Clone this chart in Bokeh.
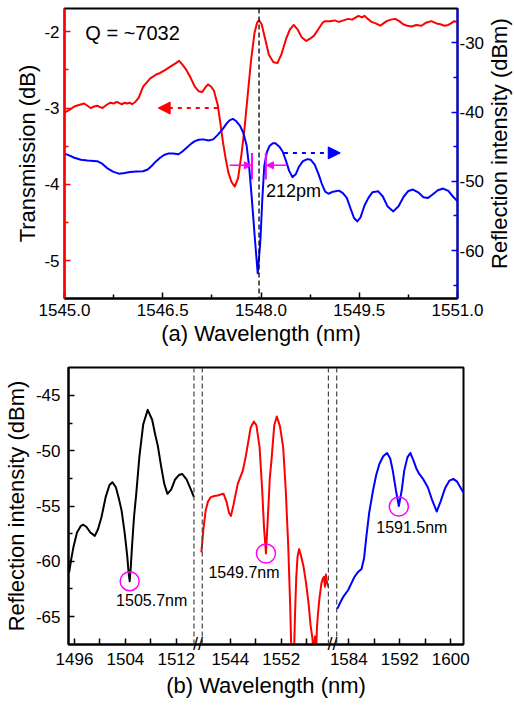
import math
from bokeh.plotting import figure
from bokeh.models import (Range1d, LinearAxis, FixedTicker, Span, Arrow,
                          NormalHead, Label, Title)
from bokeh.layouts import column, row
from bokeh.core.properties import value
from bokeh.embed import file_html
from bokeh.resources import INLINE

FONT = "Liberation Sans"

# ---------------- data: panel (a) ----------------
trans_wl = [1545.00, 1545.02, 1545.08, 1545.15, 1545.22, 1545.30, 1545.35, 1545.40,
            1545.45, 1545.50, 1545.55, 1545.58, 1545.64, 1545.70, 1545.75, 1545.80,
            1545.85, 1545.88, 1545.92, 1545.95, 1546.00, 1546.03, 1546.08, 1546.13,
            1546.20, 1546.31, 1546.40, 1546.46, 1546.54, 1546.61, 1546.70, 1546.75,
            1546.80, 1546.86, 1546.93, 1546.99, 1547.05, 1547.10, 1547.15, 1547.19,
            1547.24, 1547.28, 1547.34, 1547.38, 1547.42, 1547.46, 1547.50, 1547.55,
            1547.60, 1547.65, 1547.70, 1547.75, 1547.80, 1547.85, 1547.90, 1547.94,
            1547.97, 1548.01, 1548.06, 1548.12, 1548.19, 1548.25, 1548.31, 1548.38,
            1548.44, 1548.50, 1548.56, 1548.62, 1548.69, 1548.75, 1548.81, 1548.88,
            1548.94, 1548.98, 1549.05, 1549.12, 1549.19, 1549.26, 1549.33, 1549.39,
            1549.45, 1549.49, 1549.54, 1549.58, 1549.63, 1549.69, 1549.75, 1549.82,
            1549.87, 1549.92, 1549.98, 1550.05, 1550.11, 1550.17, 1550.23, 1550.30,
            1550.37, 1550.45, 1550.52, 1550.60, 1550.68, 1550.74, 1550.80, 1550.86,
            1550.90, 1550.95, 1551.00]
trans_db = [-3.06, -3.05, -3.02, -2.98, -2.96, -2.94, -2.97, -3.00,
            -2.98, -2.97, -2.99, -3.00, -2.96, -2.93, -2.94, -2.92,
            -2.94, -2.95, -2.93, -2.94, -2.93, -2.95, -2.92, -2.87,
            -2.72, -2.61, -2.56, -2.54, -2.50, -2.46, -2.41, -2.38,
            -2.43, -2.50, -2.61, -2.72, -2.78, -2.79, -2.73, -2.69,
            -2.72, -2.77, -2.96, -3.20, -3.45, -3.66, -3.84, -3.97,
            -4.03, -3.92, -3.62, -3.25, -2.80, -2.36, -2.02, -1.88,
            -1.85, -1.90, -2.08, -2.30, -2.40, -2.41, -2.30, -2.10,
            -1.97, -1.91, -1.97, -2.07, -2.12, -2.09, -2.05, -1.96,
            -1.88, -1.86, -1.86, -1.85, -1.87, -1.85, -1.83, -1.84,
            -1.81, -1.79, -1.81, -1.79, -1.83, -1.87, -1.89, -1.92,
            -1.89, -1.86, -1.84, -1.83, -1.86, -1.90, -1.92, -1.93,
            -1.91, -1.92, -1.88, -1.86, -1.89, -1.90, -1.92, -1.91,
            -1.89, -1.86, -1.87]

refl_wl = [1545.00, 1545.08, 1545.15, 1545.25, 1545.35, 1545.50, 1545.58, 1545.65,
           1545.74, 1545.83, 1545.92, 1546.00, 1546.10, 1546.20, 1546.27, 1546.33,
           1546.40, 1546.46, 1546.52, 1546.58, 1546.66, 1546.74, 1546.80, 1546.86,
           1546.93, 1546.99, 1547.05, 1547.12, 1547.20, 1547.27, 1547.34, 1547.42,
           1547.48, 1547.52, 1547.57, 1547.62, 1547.68, 1547.73, 1547.78, 1547.82,
           1547.86, 1547.91, 1547.95, 1547.99, 1548.02, 1548.05, 1548.09, 1548.13,
           1548.18, 1548.22, 1548.28, 1548.33, 1548.38, 1548.43, 1548.48, 1548.53,
           1548.58, 1548.64, 1548.71, 1548.76, 1548.82, 1548.88, 1548.93, 1548.98,
           1549.03, 1549.10, 1549.19, 1549.25, 1549.31, 1549.37, 1549.42, 1549.47,
           1549.52, 1549.58, 1549.64, 1549.70, 1549.79, 1549.86, 1549.93, 1550.02,
           1550.10, 1550.18, 1550.25, 1550.32, 1550.40, 1550.48, 1550.55, 1550.62,
           1550.70, 1550.78, 1550.86, 1550.93, 1551.00]
refl_dbm = [-46.0, -46.3, -46.6, -46.9, -47.0, -47.1, -47.5, -48.1,
            -48.6, -48.9, -48.8, -48.65, -48.6, -48.55, -48.3, -47.8,
            -47.1, -46.6, -46.2, -46.0, -46.0, -46.1, -45.7, -45.2,
            -44.6, -44.2, -44.0, -43.95, -44.1, -43.95, -43.3, -42.4,
            -41.6, -41.2, -41.0, -41.3, -42.0, -43.0, -44.8, -48.0,
            -52.5, -58.7, -63.3, -58.7, -52.6, -47.8, -45.8, -44.9,
            -44.5, -44.5, -45.0, -45.7, -47.0, -48.5, -49.4, -49.0,
            -47.9, -47.1, -46.8, -46.9, -47.6, -49.0, -50.4, -51.5,
            -51.8, -51.5, -51.35, -51.7, -52.4, -54.0, -55.3, -55.8,
            -55.2, -53.5, -52.4, -51.6, -51.45, -52.2, -53.6, -54.35,
            -53.6, -52.2, -51.4, -51.2, -51.6, -52.3, -52.4, -51.9,
            -51.3, -51.05, -51.4, -52.2, -52.9]

resonance_wl = 1547.97
fwhm_left, fwhm_right = 1547.862, 1548.074
q_text = "Q = ~7032"
fwhm_text = "212pm"

a_xticks = [1545.0, 1546.5, 1548.0, 1549.5, 1551.0]
a_xlabels = ["1545.0", "1546.5", "1548.0", "1549.5", "1551.0"]
a_xminor = [1545.75, 1547.25, 1548.75, 1550.25]
a_lticks = [-5, -4, -3, -2]
a_llabels = ["-5", "-4", "-3", "-2"]
a_lminor = [-5.5, -4.5, -3.5, -2.5]
a_rticks = [-60, -50, -40, -30]
a_rlabels = ["-60", "-50", "-40", "-30"]
a_rminor = [-65, -55, -45, -35]

# ---------------- data: panel (b) ----------------
black_wl = [1495.17, 1495.5, 1495.85, 1496.4, 1497.0, 1497.4, 1497.9, 1498.5, 1499.2,
            1499.7, 1500.25, 1500.9, 1501.5, 1501.97, 1502.5, 1503.0, 1503.4, 1503.9,
            1504.3, 1504.5, 1504.67, 1504.85, 1505.0, 1505.35, 1505.7, 1506.2, 1506.8,
            1507.5, 1508.2, 1508.7, 1509.1, 1509.6, 1510.1, 1510.6, 1511.2, 1511.8,
            1512.4, 1512.9, 1513.6, 1514.2, 1514.76]
black_dbm = [-61.0, -59.8, -58.7, -57.4, -56.8, -56.7, -56.9, -57.4, -57.7,
             -57.1, -56.0, -54.2, -53.1, -52.85, -53.3, -54.4, -55.4, -57.5,
             -59.6, -61.0, -61.8, -60.5, -59.0, -56.0, -53.9, -50.5, -47.6,
             -46.3, -47.2, -48.6, -49.6, -51.4, -53.0, -53.9, -53.5, -52.6,
             -52.2, -52.1, -52.6, -53.4, -54.2]

red_wl = [1539.46, 1539.8, 1540.14, 1540.5, 1540.94, 1541.5, 1542.0, 1542.5, 1542.95,
          1543.4, 1543.8, 1544.1, 1544.5, 1545.17, 1545.97, 1546.4, 1546.76, 1547.2,
          1547.7, 1548.1, 1548.6, 1549.0, 1549.3, 1549.6, 1549.9, 1550.2, 1550.46,
          1550.9, 1551.3, 1551.8, 1552.3, 1552.7, 1553.1, 1553.4, 1553.6, 1554.0,
          1554.15, 1554.35, 1554.55, 1554.8, 1555.1, 1555.5, 1555.9, 1556.3, 1556.6,
          1556.9, 1557.1, 1557.3, 1557.45, 1557.6, 1557.8, 1558.0, 1558.1, 1558.3,
          1558.5, 1558.7, 1558.85, 1559.0, 1559.2, 1559.4]
red_dbm = [-59.2, -57.0, -55.4, -54.6, -54.2, -54.1, -54.05, -53.95, -53.9,
           -54.6, -55.6, -55.9, -54.9, -53.0, -51.8, -50.6, -49.4, -47.9,
           -47.35, -47.7, -49.7, -53.5, -57.0, -59.3, -56.0, -52.5, -50.9,
           -47.7, -46.9, -47.8, -49.7, -53.5, -58.7, -64.0, -68.5, -68.5,
           -65.0, -61.5, -59.6, -58.9, -59.5, -60.5, -62.0, -63.9, -65.8,
           -67.0, -68.5, -66.8, -68.5, -66.0, -64.5, -63.3, -62.9, -62.0,
           -61.6, -61.4, -62.3, -61.2, -62.0, -62.3]

blue_wl = [1582.2, 1582.6, 1583.1, 1583.9, 1584.4, 1584.9, 1585.4, 1586.0, 1586.4,
           1586.75, 1587.2, 1587.8, 1588.3, 1588.8, 1589.4, 1590.0, 1590.5, 1590.9,
           1591.4, 1591.85, 1592.3, 1592.7, 1593.2, 1593.65, 1594.1, 1594.6, 1595.05,
           1595.7, 1596.4, 1597.1, 1597.8, 1598.4, 1599.1, 1599.8, 1600.4, 1601.0,
           1601.5, 1602.0]
blue_dbm = [-64.3, -63.8, -63.25, -62.6, -62.0, -61.4, -61.0, -60.7, -59.7,
            -57.8, -55.6, -53.6, -52.2, -51.2, -50.5, -50.2, -50.7, -51.8,
            -53.6, -55.0, -53.6, -51.8, -50.6, -50.2, -50.8, -51.6, -52.1,
            -52.6, -53.3, -54.5, -55.5, -54.6, -53.4, -52.7, -52.55, -52.8,
            -53.3, -53.8]

dip_wl = [1504.67, 1549.6, 1591.85]
dip_dbm = [-61.8, -59.3, -55.05]
dip_text = ["1505.7nm", "1549.7nm", "1591.5nm"]

b_xticks = [1496, 1504, 1512, 1544, 1552, 1584, 1592, 1600]
b_xlabels = ["1496", "1504", "1512", "1544", "1552", "1584", "1592", "1600"]
b_xminor = [1500, 1508, 1548, 1556, 1588, 1596]
b_yticks = [-65, -60, -55, -50, -45]
b_ylabels = ["-65", "-60", "-55", "-50", "-45"]
b_yminor = [-62.5, -57.5, -52.5, -47.5]
B_YMIN, B_YMAX = -67.53, -42.47

# broken-axis segments (wavelength windows shown) and gap between them
SEGMENTS = [(1495.07, 1514.76), (1539.6, 1559.4), (1582.1, 1602.0)]
GAP = 1.3
OFFSETS = []
_o = 0.0
for a, b in SEGMENTS:
    OFFSETS.append(_o)
    _o += (b - a) + GAP
X_TOTAL = _o - GAP


def brk(lam):
    for (a, b), o in zip(SEGMENTS, OFFSETS):
        if lam <= b + GAP:
            return o + (lam - a)
    a, b = SEGMENTS[-1]
    return OFFSETS[-1] + (lam - a)


def style_axis(ax, color, ticks, labels, minor, standoff):
    ax.ticker = FixedTicker(ticks=ticks, minor_ticks=minor)
    ax.major_label_overrides = {t: l for t, l in zip(ticks, labels)}
    ax.axis_line_color = color
    ax.axis_line_width = 2
    ax.major_tick_line_color = color
    ax.minor_tick_line_color = color
    ax.major_tick_line_width = 1.5
    ax.minor_tick_line_width = 1.5
    ax.major_tick_in = 6
    ax.major_tick_out = 0
    ax.minor_tick_in = 4
    ax.minor_tick_out = 0
    ax.major_label_text_font = FONT
    ax.major_label_text_font_size = "17px"
    ax.major_label_text_color = "black"
    ax.major_label_standoff = standoff
    ax.axis_label_text_font = FONT
    ax.axis_label_text_font_size = "22px"
    ax.axis_label_text_font_style = "normal"
    ax.axis_label_text_color = "black"


def side_title(p, text, place, offset, standoff):
    p.add_layout(Title(text=text, align="center", offset=offset, standoff=standoff,
                       text_font=FONT, text_font_size="22px",
                       text_font_style="normal", text_color="black"), place)


# ---------------- panel (a) ----------------
p1 = figure(width=487, height=350, x_range=Range1d(1545, 1551),
            y_range=Range1d(-5.4985, -1.694), output_backend="svg",
            toolbar_location=None, min_border_left=64, min_border_right=27,
            min_border_top=8, min_border_bottom=52)
p1.extra_y_ranges = {"refl": Range1d(-66.93, -25.05)}
p1.grid.visible = False
p1.outline_line_color = "black"
p1.outline_line_width = 2
p1.background_fill_color = "white"
p1.border_fill_color = "white"

style_axis(p1.xaxis[0], "black", a_xticks, a_xlabels, a_xminor, 5)
style_axis(p1.yaxis[0], "#ff0000", a_lticks, a_llabels, a_lminor, 5)
ax_r = LinearAxis(y_range_name="refl")
style_axis(ax_r, "#0000ff", a_rticks, a_rlabels, a_rminor, 2)
p1.add_layout(ax_r, "right")

side_title(p1, "Transmission (dB)", "left", 13, 4)
side_title(p1, "(a) Wavelength (nm)", "below", -16, 0)

p1.add_layout(Span(location=resonance_wl, dimension="height", line_color="black",
                   line_dash="5 3", line_width=1.3))

p1.line(trans_wl, trans_db, line_color="#ff0000", line_width=2, line_join="round")
p1.line(refl_wl, refl_dbm, line_color="#0000ff", line_width=2, line_join="round",
        y_range_name="refl")

# direction arrows
p1.add_layout(Arrow(end=NormalHead(size=12, fill_color="#ff0000", line_color="#ff0000"),
                    x_start=1547.34, y_start=-3.0, x_end=1546.43, y_end=-3.0,
                    line_color="#ff0000", line_width=2, line_dash="4 5"))
p1.add_layout(Arrow(end=NormalHead(size=12, fill_color="#0000ff", line_color="#0000ff"),
                    x_start=1548.35, y_start=-45.9, x_end=1549.21, y_end=-45.9,
                    line_color="#0000ff", line_width=2, line_dash="4 5",
                    y_range_name="refl"))
# FWHM markers
p1.segment(x0=[fwhm_left, fwhm_right], y0=[-45.9, -45.9], x1=[fwhm_left, fwhm_right],
           y1=[-49.75, -49.75], line_color="#ff00ff", line_width=2, y_range_name="refl")
p1.add_layout(Arrow(end=NormalHead(size=7, fill_color="#ff00ff", line_color="#ff00ff"),
                    x_start=1547.52, y_start=-47.7, x_end=fwhm_left - 0.01, y_end=-47.7,
                    line_color="#ff00ff", line_width=1.5, y_range_name="refl"))
p1.add_layout(Arrow(end=NormalHead(size=7, fill_color="#ff00ff", line_color="#ff00ff"),
                    x_start=1548.40, y_start=-47.7, x_end=fwhm_right + 0.01, y_end=-47.7,
                    line_color="#ff00ff", line_width=1.5, y_range_name="refl"))

p1.add_layout(Label(x=1548.076, y=-51.4, y_range_name="refl", text=fwhm_text,
                    text_font=FONT, text_font_size="18px", text_color="black",
                    text_align="left", text_baseline="middle"))
p1.add_layout(Label(x=1545.318, y=-2.02, text=q_text, text_font=FONT,
                    text_font_size="20px", text_color="black",
                    text_align="left", text_baseline="middle"))

# narrow strip to the right of panel (a) carrying its right-axis title
side = figure(width=27, height=350, x_range=Range1d(0, 27), y_range=Range1d(0, 350),
              x_axis_type=None, y_axis_type=None, output_backend="svg",
              toolbar_location=None, min_border=0, min_border_left=0,
              min_border_right=0, min_border_top=0, min_border_bottom=0)
side.grid.visible = False
side.outline_line_color = None
side.background_fill_color = "white"
side.border_fill_color = "white"
side.add_layout(Label(x=12, y=187, text="Reflection intensity (dBm)", angle=math.pi / 2,
                      text_font=FONT, text_font_size="22px", text_color="black",
                      text_align="center", text_baseline="middle"))

# ---------------- panel (b) ----------------
p2 = figure(width=514, height=355, x_range=Range1d(0, X_TOTAL),
            y_range=Range1d(B_YMIN, B_YMAX), output_backend="svg",
            toolbar_location=None, min_border_left=65, min_border_right=51,
            min_border_top=17, min_border_bottom=61)
p2.grid.visible = False
p2.outline_line_color = "black"
p2.outline_line_width = 2
p2.background_fill_color = "white"
p2.border_fill_color = "white"

style_axis(p2.xaxis[0], "black", [brk(v) for v in b_xticks], b_xlabels,
           [brk(v) for v in b_xminor], 8)
p2.xaxis[0].minor_tick_in = 6
style_axis(p2.yaxis[0], "black", b_yticks, b_ylabels, b_yminor, 8)
p2.yaxis[0].axis_label = "Reflection intensity (dBm)"
p2.yaxis[0].axis_label_standoff = 4
side_title(p2, "(b) Wavelength (nm)", "below", -19, 6)

for (a, b), o in zip(SEGMENTS, OFFSETS):
    for edge in (o, o + (b - a)):
        if 0.01 < edge < X_TOTAL - 0.01:
            p2.add_layout(Span(location=edge, dimension="height", line_color="#444444",
                               line_dash="5 3", line_width=1.2))

p2.line([brk(v) for v in black_wl], black_dbm, line_color="black", line_width=2,
        line_join="round")
p2.line([brk(v) for v in red_wl], red_dbm, line_color="#ff0000", line_width=2,
        line_join="round")
p2.line([brk(v) for v in blue_wl], blue_dbm, line_color="#0000ff", line_width=2,
        line_join="round")

p2.scatter([brk(v) for v in dip_wl], dip_dbm, marker="circle", size=19,
           fill_color=None, line_color="#ff00ff", line_width=1.5)
for (dx, dy), wl, lv, t in zip([(22, 19), (-22, 19), (13, 21)], dip_wl, dip_dbm, dip_text):
    p2.text(x=[brk(wl)], y=[lv], text=[t], x_offset=dx, y_offset=dy,
            text_font=value(FONT), text_font_size="16px", text_color="black",
            text_align="center", text_baseline="middle")

# break marks "//" straddling the bottom axis (overlay level, not clipped)
brk_mid = []
for i in range(len(SEGMENTS) - 1):
    a, b = SEGMENTS[i]
    brk_mid.append(OFFSETS[i] + (b - a) + GAP / 2)
p2.text(x=brk_mid, y=[B_YMIN] * len(brk_mid), text=["//"] * len(brk_mid),
        text_font=value(FONT), text_font_size="18px", text_color="black",
        text_align="center", text_baseline="middle", y_offset=-1, level="overlay")

layout = column(row(p1, side, spacing=0), p2, spacing=0)
open("out.html", "w").write(file_html(layout, INLINE))
